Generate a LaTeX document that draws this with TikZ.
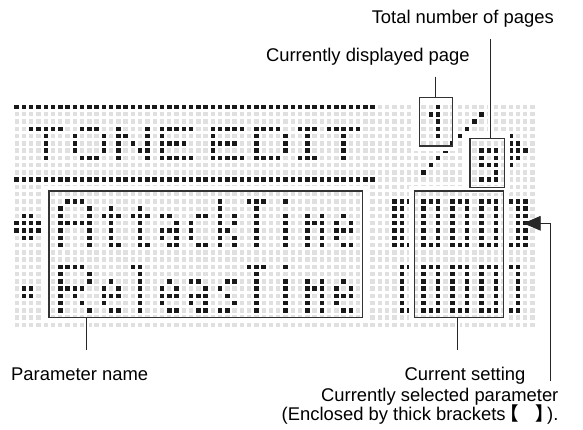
\documentclass[tikz,border=0pt]{standalone}
\usepackage{fontspec}
\setmainfont{Liberation Sans}
\newfontfamily\cjk{Noto Sans CJK SC}
\usetikzlibrary{arrows.meta}
\tikzset{
  gdot/.style={fill=black!12},
  bdot/.style={fill=black!90},
  lcdbox/.style={draw=black!80, line width=1.4pt, inner sep=0pt, outer sep=0pt},
  halo/.style={draw=white, line width=5pt},
  leader/.style={draw=black!85, line width=0.9pt, preaction={draw=white, line width=5pt}},
  lbl/.style={inner sep=0pt, anchor=base, font=\fontsize{18.4}{22}\selectfont}
}
\newcommand\dotat[2]{\fill[bdot] ({16.7+7.265*(#1)-2.25},{107+7.265*(#2)-2.25}) rectangle ++(4.5,4.5);}
\newcommand\glyph[3]{\foreach \u/\v in #3 {\dotat{#1+\u}{#2+\v}}}
% glyph shapes: column offset / row offset
\def\shA{1/0,2/0,3/0,0/1,4/1,0/2,4/2,0/3,1/3,2/3,3/3,4/3,0/4,4/4,0/5,4/5,0/6,4/6}
\def\shR{0/0,1/0,2/0,3/0,0/1,4/1,0/2,4/2,0/3,1/3,2/3,3/3,0/4,2/4,0/5,3/5,0/6,4/6}
\def\sht{1/1,0/2,1/2,2/2,1/3,1/4,1/5,1/6,2/6}
\def\sha{0/2,1/2,2/3,0/4,1/4,2/4,0/5,2/5,1/6,2/6}
\def\shc{1/2,2/2,0/3,0/4,0/5,1/6,2/6}
\def\shk{0/0,0/1,0/2,0/3,0/4,0/5,0/6,2/2,2/3,1/4,2/5,2/6}
\def\shT{0/0,1/0,2/0,1/1,1/2,1/3,1/4,1/5,1/6}
\def\shi{0/0,0/2,0/3,0/4,0/5,0/6}
\def\shm{0/2,2/2,0/3,1/3,2/3,0/4,2/4,0/5,2/5,0/6,2/6}
\def\she{1/2,0/3,2/3,0/4,1/4,2/4,0/5,1/6,2/6}
\def\shl{0/0,1/0,1/1,1/2,1/3,1/4,1/5,1/6}
\def\shs{1/2,2/2,0/3,1/4,2/5,0/6,1/6}
\def\shzero{0/0,1/0,2/0,0/1,2/1,0/2,2/2,0/3,2/3,0/4,2/4,0/5,2/5,0/6,1/6,2/6}
\def\shLthick{0/0,0/1,0/2,0/3,0/4,0/5,0/6,1/0,1/1,1/2,1/3,1/4,1/5,1/6,2/0,2/6}
\def\shRthick{0/0,0/6,1/0,1/1,1/2,1/3,1/4,1/5,1/6,2/0,2/1,2/2,2/3,2/4,2/5,2/6}
\def\shLthin{0/0,0/1,0/2,0/3,0/4,0/5,0/6,1/0,1/6}
\def\shRthin{0/0,0/6,1/0,1/1,1/2,1/3,1/4,1/5,1/6}
\begin{document}
\begin{tikzpicture}[x=1pt,y=-1pt]
\fill[white] (0,0) rectangle (583,430);
\useasboundingbox (0,0) rectangle (583,430);
% grey dot matrix
\foreach \c in {0,...,71}{\foreach \r in {0,...,30}{
  \fill[gdot] ({16.7+7.265*\c-2.2},{107+7.265*\r-2.2}) rectangle ++(4.4,4.4);}}
% black rules of the title band
\foreach \i in {0,...,49}{\dotat{\i}{0}\dotat{\i}{10}}
% TONE EDIT (small 5-row font)
\glyph{0}{0}{{2/3,3/3,4/3,5/3,6/3,4/4,4/5,4/6,4/7}}
\glyph{0}{0}{{9/3,10/3,11/3,8/4,12/4,8/5,12/5,8/6,12/6,9/7,10/7,11/7}}
\glyph{0}{0}{{14/3,14/4,14/5,14/6,14/7,18/3,18/4,18/5,18/6,18/7,15/4,16/5,17/6}}
\glyph{0}{0}{{20/3,21/3,22/3,23/3,24/3,20/4,20/5,21/5,22/5,23/5,20/6,20/7,21/7,22/7,23/7,24/7}}
\glyph{0}{0}{{27/3,28/3,29/3,30/3,31/3,27/4,27/5,28/5,29/5,30/5,27/6,27/7,28/7,29/7,30/7,31/7}}
\glyph{0}{0}{{33/3,34/3,35/3,36/3,33/4,37/4,33/5,37/5,33/6,37/6,33/7,34/7,35/7,36/7}}
\glyph{0}{0}{{39/3,40/3,41/3,40/4,40/5,40/6,39/7,40/7,41/7}}
\glyph{0}{0}{{43/3,44/3,45/3,46/3,47/3,45/4,45/5,45/6,45/7}}
% page indicator 1 / 9 and marker
\glyph{0}{0}{{58/0,57/1,58/1,58/2,58/3,58/4}}
\glyph{0}{0}{{64/1,63/2,62/3,61/4,60/5,59/6,58/7,57/8,56/9}}
\glyph{0}{0}{{64/6,65/6,66/6,64/7,66/7,64/8,65/8,66/8,66/9,64/10,65/10,66/10}}
\glyph{0}{0}{{68/4,68/5,69/5,68/6,69/6,70/6,68/7,69/7,68/8}}
% cursor bullets
\glyph{0}{0}{{1/15,2/15,0/16,1/16,2/16,3/16,0/17,1/17,2/17,3/17,1/18,2/18}}
\glyph{0}{0}{{1/25,2/25,1/26,2/26}}
% AttackTime
\glyph{6}{13}{\shA}\glyph{12}{13}{\sht}\glyph{16}{13}{\sht}\glyph{20}{13}{\sha}
\glyph{24}{13}{\shc}\glyph{28}{13}{\shk}\glyph{32}{13}{\shT}\glyph{37}{13}{\shi}
\glyph{40}{13}{\shm}\glyph{44}{13}{\she}
% ReleaseTime
\glyph{6}{22}{\shR}\glyph{12}{22}{\she}\glyph{16}{22}{\shl}\glyph{20}{22}{\she}
\glyph{24}{22}{\sha}\glyph{28}{22}{\shs}\glyph{32}{22}{\shT}\glyph{37}{22}{\shi}
\glyph{40}{22}{\shm}\glyph{44}{22}{\she}
% values
\glyph{52}{13}{\shLthick}\glyph{56}{13}{\shzero}\glyph{60}{13}{\shzero}\glyph{64}{13}{\shzero}\glyph{68}{13}{\shRthick}
\glyph{53}{22}{\shLthin}\glyph{56}{22}{\shzero}\glyph{60}{22}{\shzero}\glyph{64}{22}{\shzero}\glyph{68}{22}{\shRthin}
% halos
\draw[halo] ({49-2.9},{191-2.9}) rectangle ({362.7+2.9},{317.7+2.9});
\draw[halo] ({414.3-2.9},{191-2.9}) rectangle ({503.3+2.9},{317.7+2.9});
\draw[halo] ({419.3-2.9},{97.3-2.9}) rectangle ({452.7+2.9},{146+2.9});
\draw[halo] ({470-2.9},{138.7-2.9}) rectangle ({504.7+2.9},{187.7+2.9});
% labels
\node[lbl] (tot) at (462.8,23.3) {Total number of pages};
\node[lbl] (cur) at (367.8,61.5) {Currently displayed page};
\node[lbl] (pn) at (79.7,380) {Parameter name};
\node[lbl] (cs) at (465,380) {Current setting};
\node[lbl, anchor=base east] (sel1) at (558.6,401) {Currently selected parameter};
\node[lbl, anchor=base east] (sel2) at (558.6,420) {(Enclosed by thick brackets\hspace{-5pt}{\cjk\bfseries 【}\hspace{16.7pt}{\cjk\bfseries 】}\hspace{-7pt}).};
% leader end points
\coordinate (pnl) at (86.7,350);
\coordinate (csl) at (457.3,350);
\coordinate (curl) at (435.3,76.7);
\coordinate (totl) at (490,39.3);
\coordinate (sell) at (550,381);
\coordinate (tip) at (523.3,223.3);
% leaders (drawn before frames)
\draw[leader] (pnl) -- (86.7,317.7);
\draw[leader] (csl) -- (457.3,317.7);
\draw[leader] (curl) -- (435.3,97.3);
\draw[leader] (totl) -- (490,138.7);
% frames
\node[lcdbox, minimum width=313.7, minimum height=126.7] (pbox) at ({(49+362.7)/2},{(191+317.7)/2}) {};
\node[lcdbox, minimum width=89, minimum height=126.7] (vbox) at ({(414.3+503.3)/2},{(191+317.7)/2}) {};
\node[lcdbox, minimum width=33.4, minimum height=48.7] (pgbox) at ({(419.3+452.7)/2},{(97.3+146)/2}) {};
\node[lcdbox, minimum width=34.7, minimum height=49] (totbox) at ({(470+504.7)/2},{(138.7+187.7)/2}) {};
% arrow to selected parameter
\draw[draw=black!85, line width=0.9pt, -{Triangle[length=17.4pt,width=14.7pt]}] (sell) |- (tip);
\end{tikzpicture}
\end{document}
